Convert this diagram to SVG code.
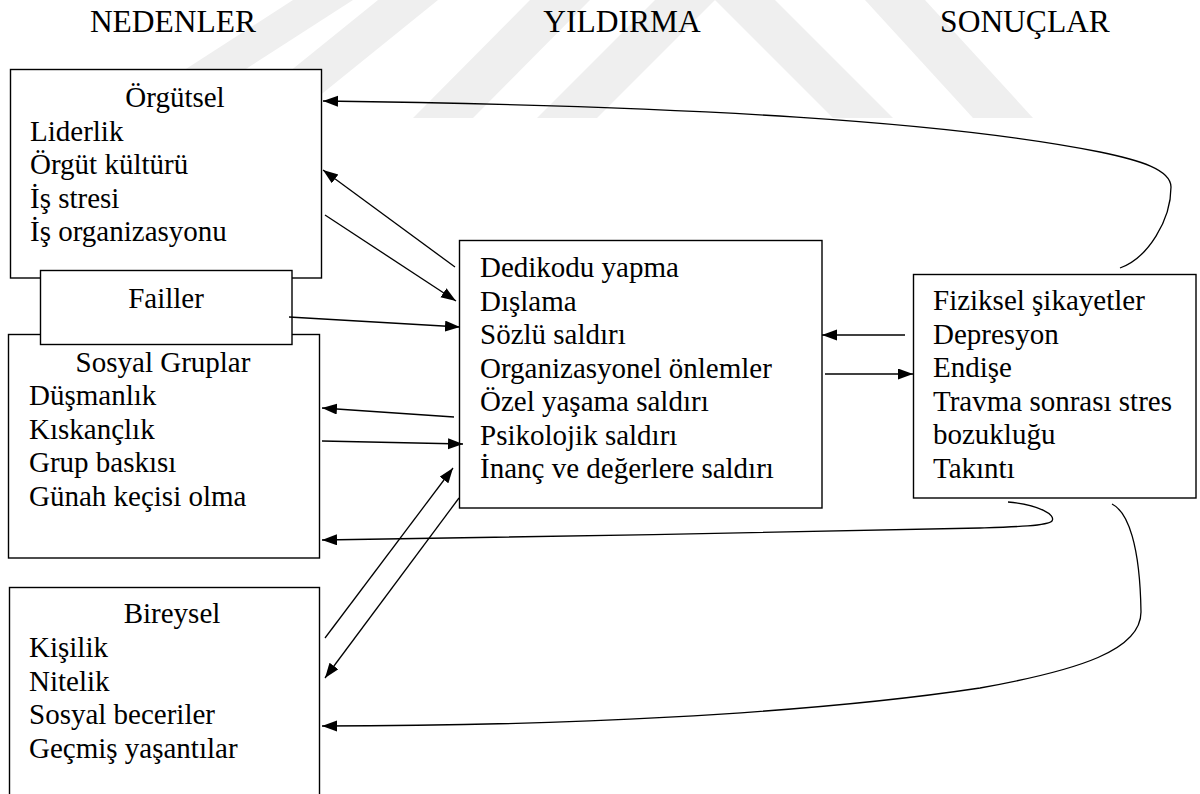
<svg xmlns="http://www.w3.org/2000/svg" width="1200" height="794" viewBox="0 0 1200 794">
<style>
.t{font-family:'Liberation Serif','Times New Roman',serif;font-size:29px;fill:#000}
.h{font-size:31.5px}
.c{text-anchor:middle}
.box{fill:#fff;stroke:#000;stroke-width:1.4}
.ln{fill:none;stroke:#000;stroke-width:1.3}
.wm{fill:#efefef}
</style>
<defs>
<marker id="ah" markerUnits="userSpaceOnUse" markerWidth="16" markerHeight="12" refX="15" refY="5.5" orient="auto">
<path d="M0,0 L15,5.5 L0,11 Z" fill="#000"/>
</marker>
</defs>
<rect width="1200" height="794" fill="#fff"/>
<g id="watermark">
<polygon class="wm" points="655,0 715,0 597,118 537,118"/>
<polygon class="wm" points="530,0 590,0 473,118 413,118"/>
<polygon class="wm" points="378,0 438,0 292,118 232,118"/>
<polygon class="wm" points="293,0 353,0 170,118 110,118"/>
<polygon class="wm" points="715,0 775,0 893,118 833,118"/>
<polygon class="wm" points="865,0 925,0 1033,118 973,118"/>
</g>
<g id="headers">
<text class="t h c" x="173" y="32">NEDENLER</text>
<text class="t h c" x="622" y="32">YILDIRMA</text>
<text class="t h c" x="1025" y="32">SONUÇLAR</text>
</g>
<g id="orgutsel">
<rect class="box" x="10.5" y="69.5" width="311" height="208.5"/>
<text class="t c" x="175" y="107">Örgütsel</text>
<text class="t" x="30" y="141">Liderlik</text>
<text class="t" x="30" y="174">Örgüt kültürü</text>
<text class="t" x="30" y="207.5">İş stresi</text>
<text class="t" x="30" y="241">İş organizasyonu</text>
</g>
<g id="sosyal">
<rect class="box" x="8.5" y="334.5" width="311" height="223.5"/>
<text class="t c" x="163" y="372">Sosyal Gruplar</text>
<text class="t" x="29" y="405">Düşmanlık</text>
<text class="t" x="29" y="438.5">Kıskançlık</text>
<text class="t" x="29" y="472">Grup baskısı</text>
<text class="t" x="29" y="505.5">Günah keçisi olma</text>
</g>
<g id="failler">
<rect class="box" x="40.5" y="270.5" width="251.5" height="74"/>
<text class="t c" x="166" y="308">Failler</text>
</g>
<g id="bireysel">
<rect class="box" x="9.5" y="587.5" width="310" height="220"/>
<text class="t c" x="172" y="623">Bireysel</text>
<text class="t" x="29" y="657">Kişilik</text>
<text class="t" x="29" y="690.5">Nitelik</text>
<text class="t" x="29" y="724">Sosyal beceriler</text>
<text class="t" x="29" y="757.5">Geçmiş yaşantılar</text>
</g>
<g id="yildirma">
<rect class="box" x="459.5" y="240.5" width="362.5" height="267.5"/>
<text class="t" x="480" y="277">Dedikodu yapma</text>
<text class="t" x="480" y="310.5">Dışlama</text>
<text class="t" x="480" y="344">Sözlü saldırı</text>
<text class="t" x="480" y="377.5">Organizasyonel önlemler</text>
<text class="t" x="480" y="411">Özel yaşama saldırı</text>
<text class="t" x="480" y="444.5">Psikolojik saldırı</text>
<text class="t" x="480" y="478">İnanç ve değerlere saldırı</text>
</g>
<g id="sonuclar">
<rect class="box" x="913.5" y="274.5" width="282.5" height="223.5"/>
<text class="t" x="933" y="310">Fiziksel şikayetler</text>
<text class="t" x="933" y="343.5">Depresyon</text>
<text class="t" x="933" y="377">Endişe</text>
<text class="t" x="933" y="410.5">Travma sonrası stres</text>
<text class="t" x="933" y="444">bozukluğu</text>
<text class="t" x="933" y="477.5">Takıntı</text>
</g>
<g id="connectors">
<path class="ln" marker-end="url(#ah)" d="M1120,268 C1148,258 1171,220 1171,187 C1171,170 1140,160 1100,152 C950,122 700,106 323,101"/>
<path class="ln" marker-end="url(#ah)" d="M455,267 L323,170"/>
<path class="ln" marker-end="url(#ah)" d="M325,215 L456,301"/>
<path class="ln" marker-end="url(#ah)" d="M289,317 L460,327"/>
<path class="ln" marker-end="url(#ah)" d="M454,417 L322,408"/>
<path class="ln" marker-end="url(#ah)" d="M322,441 L463,444"/>
<path class="ln" marker-end="url(#ah)" d="M325,638 L453,468"/>
<path class="ln" marker-end="url(#ah)" d="M459,498 L325,678"/>
<path class="ln" marker-end="url(#ah)" d="M905,335 L822,335"/>
<path class="ln" marker-end="url(#ah)" d="M825,374 L913,374"/>
<path class="ln" marker-end="url(#ah)" d="M1008,502 C1040,505 1056,515 1052,521 C1048,526 1010,527 980,528 C800,532 500,538 322,540"/>
<path class="ln" marker-end="url(#ah)" d="M1112,504 C1128,512 1140,545 1141,612 C1141,650 1080,670 980,688 C800,715 550,726 322,726"/>
</g>
</svg>
